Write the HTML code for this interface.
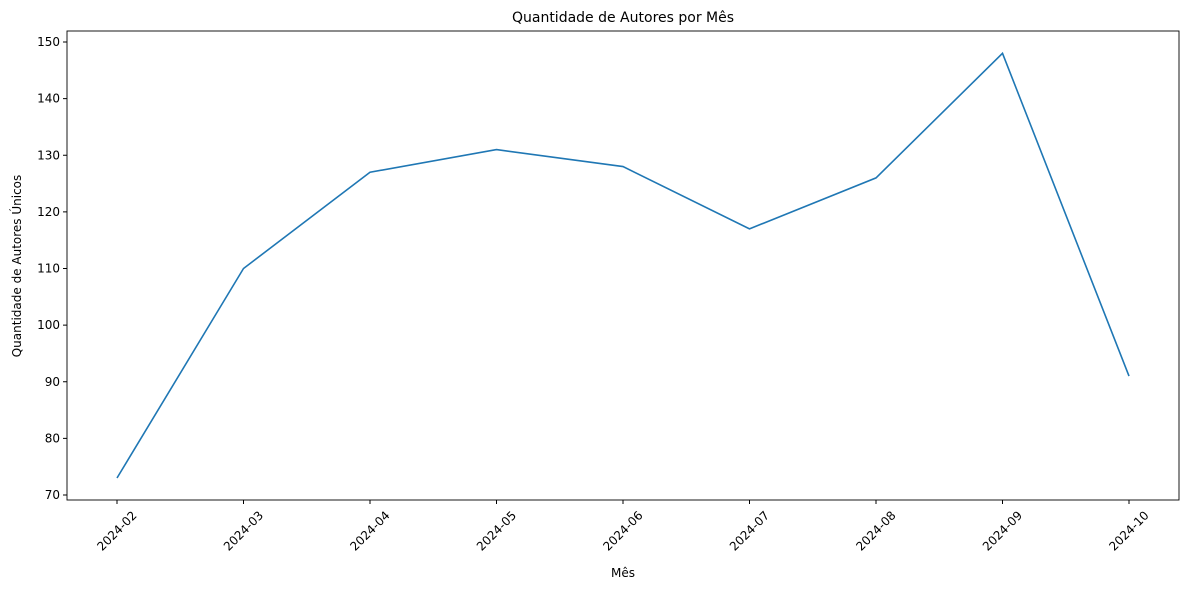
<!DOCTYPE html>
<html><head><meta charset="utf-8"><style>
body{margin:0;background:#fff;}
svg{display:block;font-family:"DejaVu Sans","Liberation Sans",sans-serif;}
</style></head><body>
<svg id="chart" width="1189" height="590">
<text x="623" y="22" text-anchor="middle" font-size="14">Quantidade de Autores por Mês</text>
<text x="623" y="577" text-anchor="middle" font-size="12">Mês</text>
<text transform="translate(21,266) rotate(-90)" text-anchor="middle" font-size="12">Quantidade de Autores Únicos</text>
<g id="axes"></g>
</svg>
<script>
const categories=["2024-02","2024-03","2024-04","2024-05","2024-06","2024-07","2024-08","2024-09","2024-10"];
const values=[73,110,127,131,128,117,126,148,91];
const yTicks=[70,80,90,100,110,120,130,140,150];
const NS="http://www.w3.org/2000/svg";
const g=document.getElementById('axes');
const L=67,R=1179,T=31,B=500;
const x=i=>117+i*(1129-117)/(categories.length-1);
const y=v=>495-(v-70)*(495-42)/80;
function mk(t,a){const e=document.createElementNS(NS,t);for(const k in a)e.setAttribute(k,a[k]);g.appendChild(e);return e;}
yTicks.forEach(v=>{
 const tk=mk('line',{x1:L-4,x2:L,y1:y(v),y2:y(v),stroke:'#000'});
 
 
 const t=mk('text',{x:L-7,y:y(v)+4,'text-anchor':'end','font-size':12});
 
 
 t.textContent=v;
});
categories.forEach((c,i)=>{
 const tk=mk('line',{x1:x(i),x2:x(i),y1:B,y2:B+4,stroke:'#000'});
 
 
 const t=mk('text',{transform:`translate(${x(i)},${B+31}) rotate(-45)`,'text-anchor':'middle','dominant-baseline':'central','font-size':12});
 
 
 t.textContent=c;
});
const p=mk('polyline',{points:values.map((v,i)=>x(i)+','+y(v)).join(' '),fill:'none',stroke:'#1f77b4','stroke-width':1.6});


const f=mk('rect',{x:L,y:T,width:R-L,height:B-T,fill:'none',stroke:'#000','stroke-width':0.9});


</script>
</body></html>
